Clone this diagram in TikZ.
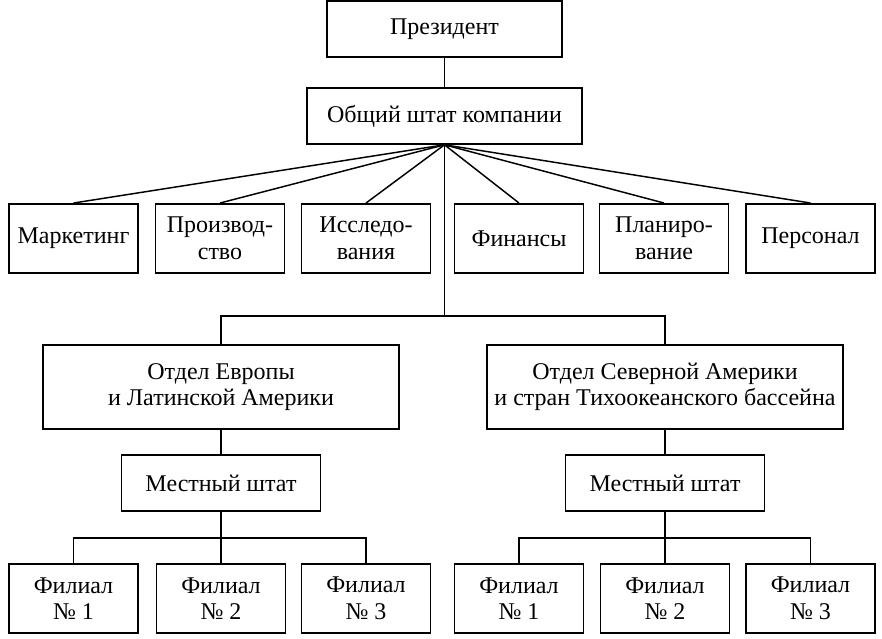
\documentclass[tikz,border=0pt]{standalone}
\usepackage{fontspec}
\setmainfont{Liberation Serif}
\begin{document}
\begin{tikzpicture}[x=.75pt,y=-.75pt,
                    line/.style={line width=1.1pt},
                    unit/.style={draw,line width=1.2pt,inner sep=0pt,align=center,
                                 minimum width=97pt,minimum height=52pt},
                    every node/.style={font=\fontsize{18}{20}\selectfont}]
 \useasboundingbox (0,0) rectangle (882,639);
 % head and staff
 \node[unit,minimum width=176pt,minimum height=42pt] (pres) at (444.5,29) {Президент};
 \node[unit,minimum width=206pt,minimum height=42pt] (staff) at (444.5,116) {Общий штат компании};
 % departments
 \node[unit] (mark) at (73.5,238.5) {Маркетинг};
 \node[unit] (prod) at (220,238.5) {Производ-\\ство};
 \node[unit] (res) at (366,238.5) {Исследо-\\вания};
 \node[unit] (fin) at (519,238.5) {Финансы};
 \node[unit] (plan) at (664,238.5) {Планиро-\\вание};
 \node[unit] (pers) at (810.5,238.5) {Персонал};
 % divisions
 \node[unit,minimum width=267pt,minimum height=63pt] (eur) at (221,387) {Отдел Европы\\и Латинской Америки};
 \node[unit,minimum width=267pt,minimum height=63pt] (nam) at (665,387) {Отдел Северной Америки\\и стран Тихоокеанского бассейна};
 \node[unit,minimum width=149pt,minimum height=42pt] (loca) at (221,483) {Местный штат};
 \node[unit,minimum width=149pt,minimum height=42pt] (locb) at (665,483) {Местный штат};
 % branches
 \node[unit] (fa1) at (73.5,598.5) {Филиал\\№ 1};
 \node[unit] (fa2) at (221,598.5) {Филиал\\№ 2};
 \node[unit] (fa3) at (366,598.5) {Филиал\\№ 3};
 \node[unit] (fb1) at (519,598.5) {Филиал\\№ 1};
 \node[unit] (fb2) at (665,598.5) {Филиал\\№ 2};
 \node[unit] (fb3) at (810.5,598.5) {Филиал\\№ 3};
 % links
 \coordinate (bus) at (staff.south |- 0,316);
 \coordinate (forka) at (loca.south |- 0,538);
 \coordinate (forkb) at (locb.south |- 0,538);
 \draw[line] (pres) -- (staff);
 \draw[line] (staff.south) -- (mark.north);
 \draw[line] (staff.south) -- (prod.north);
 \draw[line] (staff.south) -- (res.north);
 \draw[line] (staff.south) -- (fin.north);
 \draw[line] (staff.south) -- (plan.north);
 \draw[line] (staff.south) -- (pers.north);
 \draw[line] (staff.south) -- (bus);
 \draw[line] (eur.north) |- (bus) -| (nam.north);
 \draw[line] (eur) -- (loca); \draw[line] (nam) -- (locb);
 \draw[line] (loca) -- (fa2); \draw[line] (locb) -- (fb2);
 \draw[line] (fa1.north) |- (forka) -| (fa3.north);
 \draw[line] (fb1.north) |- (forkb) -| (fb3.north);
\end{tikzpicture}
\end{document}
